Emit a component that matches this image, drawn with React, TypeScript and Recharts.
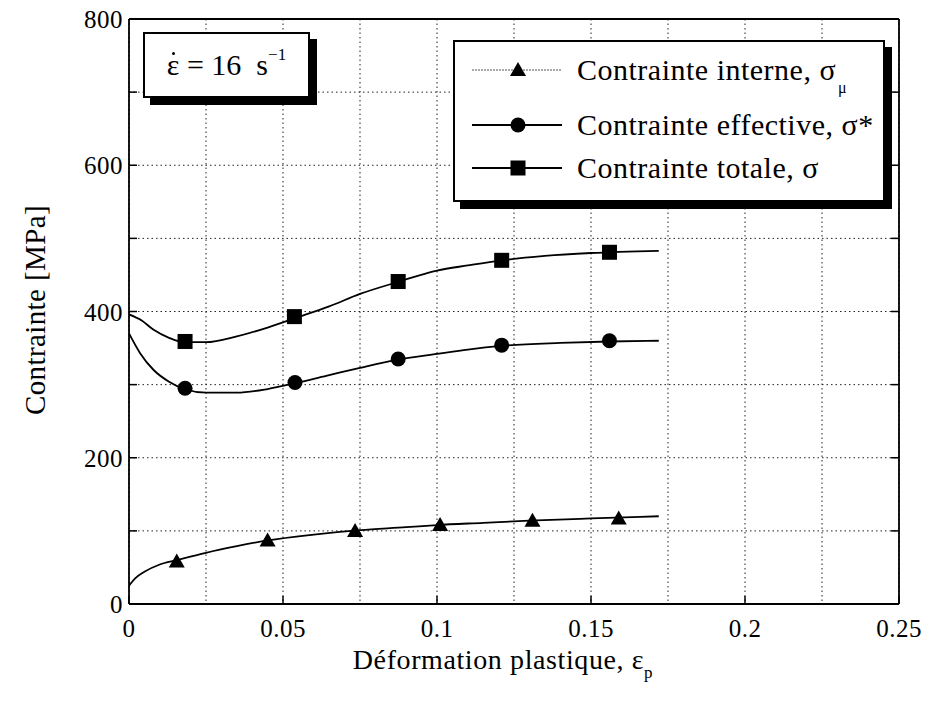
import React from 'react'
import { ComposedChart, Line, Scatter, XAxis, YAxis, CartesianGrid, Legend } from 'recharts'

const FONT = '"Liberation Serif", "Times New Roman", serif'

// axis ticks (grid every 0.025 / 100, labels on the major ones)
const xTicks = [0, 0.025, 0.05, 0.075, 0.1, 0.125, 0.15, 0.175, 0.2, 0.225, 0.25]
const xMajor = [0, 0.05, 0.1, 0.15, 0.2, 0.25]
const xLabels = ['0', '0.05', '0.1', '0.15', '0.2', '0.25']
const yTicks = [0, 100, 200, 300, 400, 500, 600, 700, 800]
const yMajor = [0, 200, 400, 600, 800]
const yLabels = ['0', '200', '400', '600', '800']

// measured points
const internePoints = [
  { x: 0.0155, y: 58 },
  { x: 0.045, y: 87 },
  { x: 0.0734, y: 100 },
  { x: 0.101, y: 108 },
  { x: 0.131, y: 114 },
  { x: 0.159, y: 117 },
]
const effectivePoints = [
  { x: 0.0182, y: 295 },
  { x: 0.0539, y: 303 },
  { x: 0.0874, y: 335 },
  { x: 0.121, y: 354 },
  { x: 0.156, y: 360 },
]
const totalePoints = [
  { x: 0.0182, y: 359 },
  { x: 0.0537, y: 393 },
  { x: 0.0874, y: 441 },
  { x: 0.121, y: 470 },
  { x: 0.156, y: 481 },
]

// fitted curves
const interneCurve = [
  { x: 0, y: 25 }, { x: 0.002, y: 35 }, { x: 0.005, y: 44 }, { x: 0.01, y: 54 },
  { x: 0.0155, y: 60 }, { x: 0.025, y: 70 }, { x: 0.035, y: 79 }, { x: 0.045, y: 87 },
  { x: 0.06, y: 95 }, { x: 0.075, y: 101 }, { x: 0.09, y: 105 }, { x: 0.1, y: 108 },
  { x: 0.115, y: 111 }, { x: 0.13, y: 114 }, { x: 0.15, y: 117 }, { x: 0.172, y: 120 },
]
const effectiveCurve = [
  { x: 0, y: 370 }, { x: 0.0036, y: 343 }, { x: 0.008, y: 320 }, { x: 0.013, y: 304 },
  { x: 0.018, y: 294 }, { x: 0.025, y: 289 }, { x: 0.035, y: 289 }, { x: 0.045, y: 294 },
  { x: 0.054, y: 302 }, { x: 0.065, y: 313 }, { x: 0.075, y: 323 }, { x: 0.087, y: 334 },
  { x: 0.1, y: 342 }, { x: 0.11, y: 348 }, { x: 0.121, y: 353 }, { x: 0.14, y: 357 },
  { x: 0.156, y: 359 }, { x: 0.172, y: 360 },
]
const totaleCurve = [
  { x: 0, y: 396 }, { x: 0.004, y: 388 }, { x: 0.008, y: 375 }, { x: 0.013, y: 364 },
  { x: 0.018, y: 358 }, { x: 0.025, y: 358 }, { x: 0.035, y: 366 }, { x: 0.045, y: 378 },
  { x: 0.054, y: 391 }, { x: 0.065, y: 407 }, { x: 0.075, y: 424 }, { x: 0.087, y: 440 },
  { x: 0.1, y: 456 }, { x: 0.11, y: 463 }, { x: 0.121, y: 470 }, { x: 0.135, y: 476 },
  { x: 0.15, y: 480 }, { x: 0.172, y: 483 },
]

const seriesNames = ['Contrainte interne, σ', 'Contrainte effective, σ*', 'Contrainte totale, σ']

const near = (arr: number[], v: number) => arr.findIndex((a) => Math.abs(a - v) < 1e-9)

const Triangle = ({ cx, cy }: any) => (
  <polygon points={`${cx},${cy - 8} ${cx + 8},${cy + 6} ${cx - 8},${cy + 6}`} fill="#000" />
)
const Dot = ({ cx, cy }: any) => <circle cx={cx} cy={cy} r={7.5} fill="#000" />
const Square = ({ cx, cy }: any) => <rect x={cx - 7.5} y={cy - 7.5} width={15} height={15} fill="#000" />

function BottomTick({ x, y, payload }: any) {
  const i = near(xMajor, payload.value)
  if (i < 0) return <g />
  return (
    <g>
      <line x1={x} x2={x} y1={y} y2={y - 8} stroke="#000" strokeWidth={1.5} />
      <text x={x} y={y + 33} textAnchor="middle" fontFamily={FONT} fontSize={25} letterSpacing={0.5} fill="#000">
        {xLabels[i]}
      </text>
    </g>
  )
}

function TopTick({ x, y }: any) {
  return <line x1={x} x2={x} y1={y} y2={y + 8} stroke="#000" strokeWidth={1.5} />
}

function LeftTick({ x, y, payload }: any) {
  const i = near(yMajor, payload.value)
  return (
    <g>
      <line x1={x} x2={x + 8} y1={y} y2={y} stroke="#000" strokeWidth={1.5} />
      {i >= 0 && (
        <text x={x - 6} y={y + 9} textAnchor="end" fontFamily={FONT} fontSize={25} letterSpacing={0.5} fill="#000">
          {yLabels[i]}
        </text>
      )}
    </g>
  )
}

function RightTick({ x, y }: any) {
  return <line x1={x} x2={x - 8} y1={y} y2={y} stroke="#000" strokeWidth={1.5} />
}

const XTitle = () => (
  <text x={503} y={669} textAnchor="middle" fontFamily={FONT} fontSize={28} letterSpacing={0.6} fill="#000">
    Déformation plastique, ε<tspan fontSize={17} dy={9}>p</tspan>
  </text>
)

const YTitle = () => (
  <text
    x={35}
    y={310}
    transform="rotate(-90 35 310)"
    textAnchor="middle"
    dominantBaseline="central"
    fontFamily={FONT}
    fontSize={29}
    letterSpacing={0.4}
    fill="#000"
  >
    Contrainte [MPa]
  </text>
)

const legendMarks = [Triangle, Dot, Square]
const legendRows = [28, 83, 126]

function LegendBox() {
  return (
    <div
      style={{
        position: 'relative',
        width: 432,
        height: 162,
        boxSizing: 'border-box',
        border: '2px solid #000',
        boxShadow: '7px 7px 0 #000',
        background: '#fff',
        fontFamily: FONT,
        color: '#000',
      }}
    >
      {seriesNames.map((name, i) => {
        const Mark = legendMarks[i]
        const top = legendRows[i]
        return (
          <div key={name} style={{ position: 'absolute', left: 0, top: top - 20, height: 40, width: 430 }}>
            <svg width={120} height={40} style={{ position: 'absolute', left: 0, top: 0 }}>
              <line
                x1={17}
                x2={107}
                y1={20}
                y2={20}
                stroke={i === 0 ? '#555' : '#000'}
                strokeWidth={i === 0 ? 1 : 1.8}
                strokeDasharray={i === 0 ? '2 1' : undefined}
              />
              <Mark cx={63} cy={20} />
            </svg>
            <span
              style={{
                position: 'absolute',
                left: 122,
                top: 0,
                lineHeight: '40px',
                fontSize: 30,
                whiteSpace: 'nowrap',
                letterSpacing: 0.5,
              }}
            >
              {name}
              {i === 0 && (
                <sub style={{ fontSize: 16, position: 'relative', top: 6, marginLeft: 2 }}>μ</sub>
              )}
            </span>
          </div>
        )
      })}
    </div>
  )
}

export default function App() {
  return (
    <div style={{ position: 'absolute', left: 0, top: 0, width: 927, height: 701, background: '#fff' }}>
      <ComposedChart width={927} height={701} margin={{ top: 18, right: 27, bottom: 37, left: 69 }}>
        <CartesianGrid stroke="#222" strokeWidth={1} strokeDasharray="1.5 3" />
        <XAxis
          type="number"
          dataKey="x"
          domain={[0, 0.25]}
          ticks={xTicks}
          allowDataOverflow
          height={60}
          tickSize={0}
          tickMargin={0}
          tickLine={false}
          tick={<BottomTick />}
          interval={0}
          axisLine={{ stroke: '#000', strokeWidth: 1.8 }}
          label={<XTitle />}
        />
        <XAxis
          xAxisId="top"
          orientation="top"
          type="number"
          domain={[0, 0.25]}
          ticks={xTicks}
          allowDataOverflow
          height={1}
          tickSize={0}
          tickMargin={0}
          tickLine={false}
          tick={<TopTick />}
          interval={0}
          axisLine={{ stroke: '#000', strokeWidth: 1.8 }}
        />
        <YAxis
          type="number"
          dataKey="y"
          domain={[0, 800]}
          ticks={yTicks}
          allowDataOverflow
          width={60}
          tickSize={0}
          tickMargin={0}
          tickLine={false}
          tick={<LeftTick />}
          interval={0}
          axisLine={{ stroke: '#000', strokeWidth: 1.8 }}
          label={<YTitle />}
        />
        <YAxis
          yAxisId="right"
          orientation="right"
          type="number"
          domain={[0, 800]}
          ticks={yTicks}
          allowDataOverflow
          width={1}
          tickSize={0}
          tickMargin={0}
          tickLine={false}
          tick={<RightTick />}
          interval={0}
          axisLine={{ stroke: '#000', strokeWidth: 1.8 }}
        />
        <Line data={interneCurve} dataKey="y" type="monotone" stroke="#000" strokeWidth={1.8} dot={false} activeDot={false} isAnimationActive={false} legendType="none" />
        <Line data={effectiveCurve} dataKey="y" type="monotone" stroke="#000" strokeWidth={1.8} dot={false} activeDot={false} isAnimationActive={false} legendType="none" />
        <Line data={totaleCurve} dataKey="y" type="monotone" stroke="#000" strokeWidth={1.8} dot={false} activeDot={false} isAnimationActive={false} legendType="none" />
        <Scatter data={internePoints} dataKey="y" shape={<Triangle />} isAnimationActive={false} name={seriesNames[0]} />
        <Scatter data={effectivePoints} dataKey="y" shape={<Dot />} isAnimationActive={false} name={seriesNames[1]} />
        <Scatter data={totalePoints} dataKey="y" shape={<Square />} isAnimationActive={false} name={seriesNames[2]} />
        <Legend
          layout="horizontal"
          verticalAlign="middle"
          align="center"
          content={() => <LegendBox />}
          wrapperStyle={{ position: 'absolute', left: 453, top: 40, width: 432, height: 162, margin: 0 }}
        />
      </ComposedChart>
      <div
        style={{
          position: 'absolute',
          left: 143,
          top: 32,
          width: 167,
          height: 66,
          boxSizing: 'border-box',
          border: '2px solid #000',
          boxShadow: '7px 7px 0 #000',
          background: '#fff',
          fontFamily: FONT,
          fontSize: 30,
          color: '#000',
          display: 'flex',
          alignItems: 'center',
          justifyContent: 'center',
          whiteSpace: 'nowrap',
        }}
      >
        <span>
          <span style={{ position: 'relative', display: 'inline-block' }}>
            ε
            <span
              style={{
                position: 'absolute',
                left: '50%',
                top: 4,
                width: 3,
                height: 3,
                marginLeft: -1,
                borderRadius: '50%',
                background: '#000',
              }}
            />
          </span>
          {' = 16\u00a0\u00a0s'}
          <sup style={{ fontSize: 17, position: 'relative', top: -4 }}>−1</sup>
        </span>
      </div>
    </div>
  )
}
